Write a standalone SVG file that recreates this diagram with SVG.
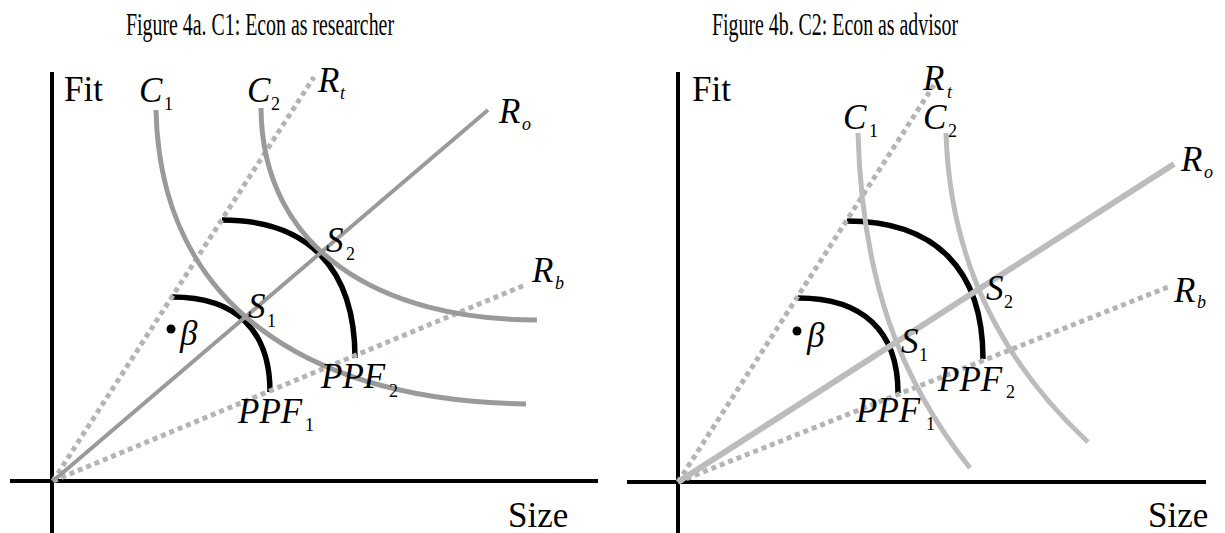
<svg xmlns="http://www.w3.org/2000/svg" width="1225" height="533" viewBox="0 0 1225 533">
<style>
text { font-family: "Liberation Serif", "Times New Roman", serif; fill: #000; }
.title { font-size: 31px; }
.ax { font-size: 35px; }
.m { font-size: 35px; font-style: italic; }
.si { font-size: 18px; font-style: italic; }
.sn { font-size: 18px; }
.axis { stroke: #000; stroke-width: 4; fill: none; }
.ppf { stroke: #000; stroke-width: 5.5; fill: none; }
.dot { stroke: #b4b4b4; stroke-width: 5; stroke-dasharray: 5 4; fill: none; }
.roA { stroke: #9a9a9a; stroke-width: 4; fill: none; }
.cA { stroke: #9a9a9a; stroke-width: 5; fill: none; }
.roB { stroke: #bcbcbc; stroke-width: 6; fill: none; }
.cB { stroke: #bcbcbc; stroke-width: 5; fill: none; }
</style>
<rect width="1225" height="533" fill="#fff"/>

<g id="panel-a">
  <text class="title" x="126" y="35" textLength="268" lengthAdjust="spacingAndGlyphs">Figure 4a. C1: Econ as researcher</text>
  <g id="axes-a">
    <line class="axis" x1="52" y1="72" x2="52" y2="533"/>
    <line class="axis" x1="10" y1="481" x2="598" y2="481"/>
  </g>
  <g id="ppf-a">
    <path class="ppf" d="M172,297 C236,297 270,330 270,392"/>
    <path class="ppf" d="M222,220 C308,220 355,268 355,358"/>
  </g>
  <g id="rays-a">
    <line class="dot" x1="53" y1="481" x2="314" y2="77"/>
    <line class="dot" x1="53" y1="481" x2="525" y2="285"/>
    <line class="roA" x1="53" y1="481" x2="488" y2="110"/>
  </g>
  <g id="curves-a">
    <path class="cA" d="M156,110 C160,300 300,400 526,404"/>
    <path class="cA" d="M261,108 C262,250 380,320 537,320"/>
  </g>
  <circle cx="171" cy="329" r="4.5" fill="#000"/>
  <g id="labels-a">
    <text class="ax" x="64" y="101">Fit</text>
    <text class="ax" x="508" y="527">Size</text>
    <text class="m" x="139" y="102">C</text><text class="sn" x="164" y="110">1</text>
    <text class="m" x="247" y="102">C</text><text class="sn" x="271" y="110">2</text>
    <text class="m" x="318" y="92">R</text><text class="si" x="340" y="99">t</text>
    <text class="m" x="499" y="123">R</text><text class="si" x="522" y="130">o</text>
    <text class="m" x="532" y="282">R</text><text class="si" x="555" y="289">b</text>
    <text class="m" x="326" y="252">S</text><text class="sn" x="346" y="260">2</text>
    <text class="m" x="248" y="318">S</text><text class="sn" x="267" y="327">1</text>
    <text class="m" x="180" y="345">β</text>
    <text class="m" x="238" y="423">PPF</text><text class="sn" x="305" y="431">1</text>
    <text class="m" x="321" y="388">PPF</text><text class="sn" x="389" y="397">2</text>
  </g>
</g>

<g id="panel-b">
  <text class="title" x="712" y="35" textLength="246" lengthAdjust="spacingAndGlyphs">Figure 4b. C2: Econ as advisor</text>
  <g id="axes-b">
    <line class="axis" x1="678" y1="72" x2="678" y2="533"/>
    <line class="axis" x1="627" y1="482" x2="1206" y2="482"/>
  </g>
  <g id="ppf-b">
    <path class="ppf" d="M798,298 C863,298 898,331 898,393"/>
    <path class="ppf" d="M847,221 C935,221 983,269 983,359"/>
  </g>
  <g id="rays-b">
    <line class="dot" x1="678" y1="482" x2="934" y2="85"/>
    <line class="dot" x1="678" y1="482" x2="1168" y2="287"/>
    <line class="roB" x1="678" y1="482" x2="1174" y2="164"/>
  </g>
  <g id="curves-b">
    <path class="cB" d="M858,133 C862,280 900,380 970,468"/>
    <path class="cB" d="M946,133 C950,260 1000,360 1088,442"/>
  </g>
  <circle cx="797" cy="331" r="4.5" fill="#000"/>
  <g id="labels-b">
    <text class="ax" x="692" y="101">Fit</text>
    <text class="ax" x="1148" y="527">Size</text>
    <text class="m" x="923" y="90">R</text><text class="si" x="947" y="98">t</text>
    <text class="m" x="843" y="129">C</text><text class="sn" x="869" y="137">1</text>
    <text class="m" x="923" y="129">C</text><text class="sn" x="948" y="137">2</text>
    <text class="m" x="1181" y="171">R</text><text class="si" x="1204" y="178">o</text>
    <text class="m" x="1174" y="302">R</text><text class="si" x="1197" y="308">b</text>
    <text class="m" x="986" y="300">S</text><text class="sn" x="1004" y="308">2</text>
    <text class="m" x="901" y="353">S</text><text class="sn" x="919" y="361">1</text>
    <text class="m" x="807" y="347">β</text>
    <text class="m" x="856" y="422">PPF</text><text class="sn" x="926" y="430">1</text>
    <text class="m" x="938" y="391">PPF</text><text class="sn" x="1006" y="398">2</text>
  </g>
</g>
</svg>
